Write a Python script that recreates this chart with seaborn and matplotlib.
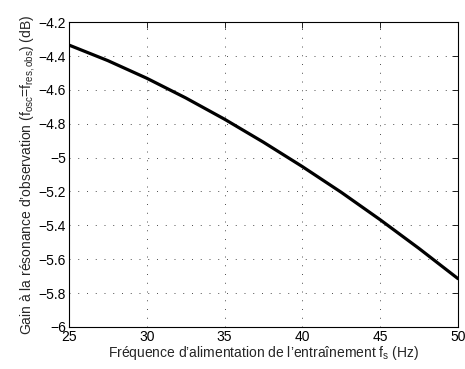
import matplotlib
matplotlib.use("Agg")
import matplotlib.pyplot as plt
import seaborn as sns
import pandas as pd

freq_hz = [25, 27.5, 30, 32.5, 35, 37.5, 40, 42.5, 45, 47.5, 50]
gain_db = [-4.335, -4.427, -4.531, -4.647, -4.773, -4.909, -5.053, -5.205, -5.367, -5.537, -5.715]
x_ticks = [25, 30, 35, 40, 45, 50]
y_ticks = [-6, -5.8, -5.6, -5.4, -5.2, -5, -4.8, -4.6, -4.4, -4.2]

sns.set_style("white")
plt.rcParams['font.family'] = ['Liberation Sans', 'DejaVu Sans']
plt.rcParams['mathtext.fontset'] = 'custom'
plt.rcParams['mathtext.rm'] = 'Liberation Sans'
plt.rcParams['mathtext.it'] = 'Liberation Sans'
plt.rcParams['mathtext.bf'] = 'Liberation Sans'

df = pd.DataFrame({"f": freq_hz, "g": gain_db})

fig = plt.figure(figsize=(4.65, 3.69), dpi=100)
ax = fig.add_axes([0.148, 0.114, 0.837, 0.826])
sns.lineplot(data=df, x="f", y="g", ax=ax, color="black", linewidth=2.3)

ax.set_xlim(25, 50)
ax.set_ylim(-6, -4.2)
ax.set_xticks(x_ticks)
ax.set_yticks(y_ticks)
ax.set_yticklabels(["\u2212" + ("%g" % abs(v)) for v in y_ticks])
ax.grid(True, linestyle=(0, (1, 8)), color="black", linewidth=0.7, alpha=0.7)
ax.tick_params(direction="in", length=4, width=0.6, labelsize=10, top=True, right=True, pad=2,
               colors="black")
for s in ax.spines.values():
    s.set_linewidth(0.8)
    s.set_color("black")

ax.set_xlabel("Fréquence d\u2019alimentation de l\u2019entraînement f$_{s}$ (Hz)", fontsize=10, labelpad=0)
ax.set_ylabel("Gain à la résonance d\u2019observation (f$_{osc}$=f$_{res, obs}$) (dB)", fontsize=10, labelpad=1)

fig.savefig("out.png", dpi=100)
